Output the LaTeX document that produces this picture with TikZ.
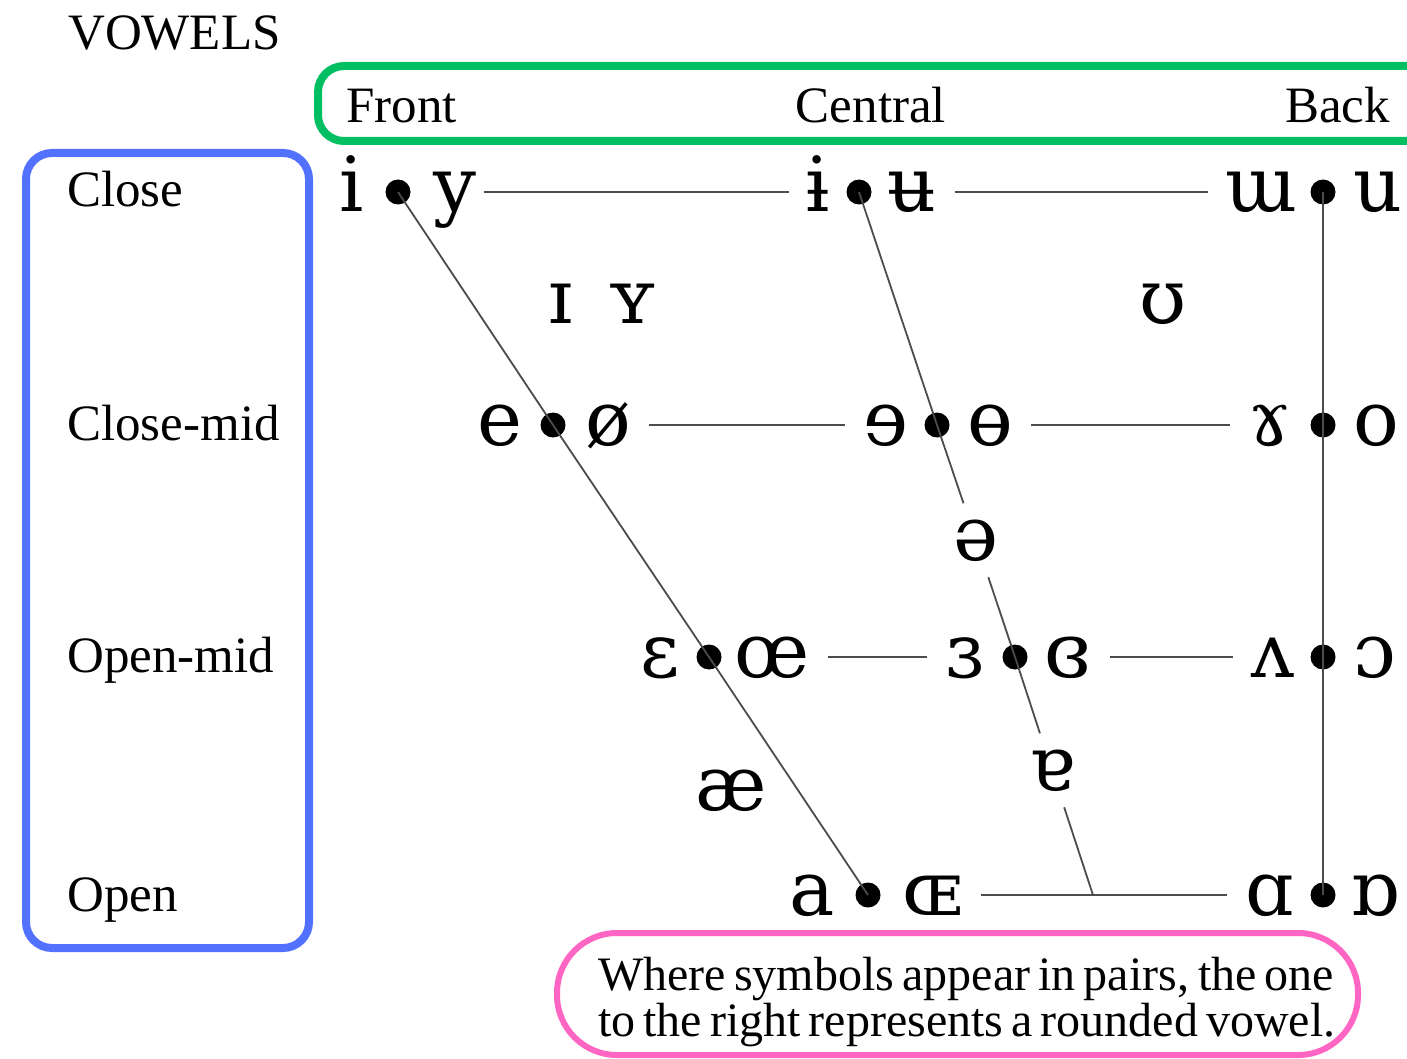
\documentclass[tikz,border=0pt]{standalone}
\usepackage{fontspec}
\setmainfont{Liberation Serif}
\newfontfamily\ipafont{DejaVu Serif}
\definecolor{boxgreen}{RGB}{0,191,99}
\definecolor{boxblue}{RGB}{82,113,255}
\definecolor{boxpink}{RGB}{255,102,196}
\begin{document}
\begin{tikzpicture}[x=1pt,y=-1pt,
  lab/.style={font=\fontsize{51}{55}\selectfont, inner sep=0},
  note/.style={font=\fontsize{48}{50}\selectfont, inner sep=0, anchor=base west},
  ipa/.style={font=\ipafont\fontsize{76}{80}\selectfont, anchor=base, inner sep=7pt},
  gapipa/.style={ipa, inner sep=16pt},
  dot/.style={circle, fill=black, inner sep=0, minimum size=25pt},
  ln/.style={line width=1.8pt, draw=black!70},
  hln/.style={ln, shorten <=11pt, shorten >=11pt},
  frame/.style={line width=8pt, rounded corners=26pt},
]
\useasboundingbox (0,0) rectangle (1407,1059);
\clip (0,0) rectangle (1407,1059);
\fill[white] (0,0) rectangle (1407,1059);

% frames
\draw[frame, boxgreen] (318,66) rectangle (1460,141);
\draw[frame, boxblue] (26,153) rectangle (309,948);
\draw[line width=6pt, boxpink, rounded corners=60pt] (557,933) rectangle (1358,1055);

% titles
\node[lab, anchor=base west] (title) at (68,50) {VOWELS};
\node[lab, anchor=base west] (front) at (346,123) {Front};
\node[lab, anchor=base] (central) at (871,123) {Central};
\node[lab, anchor=base east] (back) at (1390,123) {Back};
\node[lab, anchor=base west] (close) at (67,207) {Close};
\node[lab, anchor=base west] (closemid) at (67,440) {Close-mid};
\node[lab, anchor=base west] (openmid) at (67,672) {Open-mid};
\node[lab, anchor=base west] (open) at (67,911) {Open};

% close row (baseline = row + 20)
\node[ipa] (i) at (352,212) {i};
\node[dot] (d1) at (398,192) {};
\node[ipa] (y) at (455,212) {y};
\node[ipa] (ibar) at (818,212) {ɨ};
\node[dot] (d2) at (859,192) {};
\node[ipa] (ubar) at (912,212) {ʉ};
\node[ipa] (turnm) at (1262,212) {ɯ};
\node[dot] (d3) at (1323,192) {};
\node[ipa] (u) at (1378,212) {u};

% near-close
\node[ipa] (smallI) at (561,323) {ɪ};
\node[ipa] (smallY) at (632,323) {ʏ};
\node[ipa] (upsilon) at (1163,323) {ʊ};

% close-mid row
\node[ipa] (e) at (500,445) {e};
\node[dot] (d4) at (553,425) {};
\node[ipa] (oslash) at (608,445) {ø};
\node[ipa] (reve) at (886,445) {ɘ};
\node[dot] (d5) at (937,425) {};
\node[ipa] (obar) at (990,445) {ɵ};
\node[ipa] (ramshorn) at (1270,445) {ɤ};
\node[dot] (d6) at (1323,425) {};
\node[ipa] (o) at (1376,445) {o};

% mid
\node[gapipa] (schwa) at (976,560) {ə};

% open-mid row
\node[ipa] (eps) at (660,677) {ɛ};
\node[dot] (d7) at (709,657) {};
\node[ipa] (oe) at (772,677) {œ};
\node[ipa] (reveps) at (965,677) {ɜ};
\node[dot] (d8) at (1015,657) {};
\node[ipa] (closedreveps) at (1068,677) {ɞ};
\node[ipa] (turnv) at (1273,677) {ʌ};
\node[dot] (d9) at (1323,657) {};
\node[ipa] (openo) at (1375,677) {ɔ};

% near-open
\node[ipa] (ash) at (731,810) {æ};
\node[gapipa] (turna) at (1052,790) {ɐ};

% open row
\node[ipa] (a) at (812,915) {a};
\node[dot] (d10) at (868,895) {};
\node[ipa] (OE) at (933,915) {ɶ};
\node[ipa] (alpha) at (1270,915) {ɑ};
\node[dot] (d11) at (1323,895) {};
\node[ipa] (turnalpha) at (1375,915) {ɒ};
\coordinate (j) at (1093,895);

% front, central, back lines
\draw[ln] (d1.center) -- (d4.center) -- (d7.center) -- (d10.center);
\draw[ln] (d2.center) -- (d5.center) -- (schwa);
\draw[ln] (schwa) -- (d8.center) -- (turna);
\draw[ln] (turna) -- (j);
\draw[ln] (d3.center) -- (d11.center);

% horizontal lines
\draw[ln, shorten >=10pt] (y.east |- d1) -- (ibar.west |- d1);
\draw[hln] (ubar.east |- d2) -- (turnm.west |- d2);
\draw[hln] (oslash.east |- d4) -- (reve.west |- d4);
\draw[hln] (obar.east |- d5) -- (ramshorn.west |- d5);
\draw[hln] (oe.east |- d7) -- (reveps.west |- d7);
\draw[hln] (closedreveps.east |- d8) -- (turnv.west |- d8);
\draw[hln] (OE.east |- d10) -- (alpha.west |- d10);

% note
\node[note] (note1) at (598,990) {\makebox[736pt][s]{Where symbols appear in pairs, the one}};
\node[note] (note2) at (598,1036) {\makebox[736pt][s]{to the right represents a rounded vowel.}};
\end{tikzpicture}
\end{document}
